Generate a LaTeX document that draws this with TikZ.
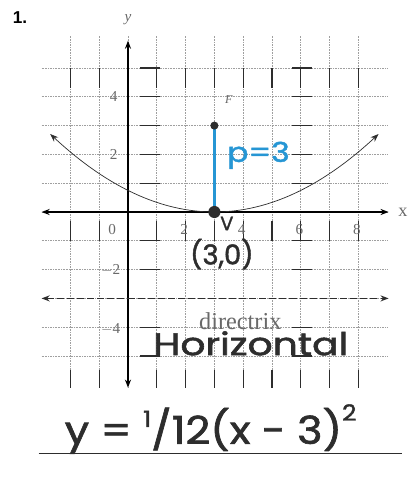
\documentclass[tikz,border=0pt]{standalone}
\usepackage{fontspec}
\setmainfont{Liberation Serif}
\setsansfont{Liberation Sans}
\newfontfamily\handfont[FakeBold=1.6]{Poppins}
\usetikzlibrary{arrows.meta, positioning, calc}
\definecolor{penblue}{RGB}{38,150,212}
\definecolor{ink}{RGB}{45,45,45}
\definecolor{printgray}{RGB}{105,105,105}

\begin{document}
\begin{tikzpicture}[
    x=1cm, y=1cm,
    >=Stealth,
    grid/.style={gray!75, densely dotted, line width=0.6pt},
    bar/.style={ink, line width=1.3pt},
    axis/.style={line width=1.6pt, black, {Stealth[length=8pt]}-{Stealth[length=8pt]}},
    curve/.style={ink, line width=0.7pt, {Stealth[length=8pt]}-{Stealth[length=8pt]}},
    dline/.style={ink, line width=1.6pt, dash pattern=on 7pt off 3pt, {Stealth[length=8pt]}-{Stealth[length=8pt]}},
    tick/.style={font=\fontsize{15}{15}\selectfont, text=printgray, inner sep=1pt},
    hand/.style={font=\handfont\fontsize{30}{30}\selectfont, text=ink, inner sep=0pt},
    dot/.style={circle, fill=ink, inner sep=0pt}
]
\useasboundingbox (-4.444,-9.375) rectangle (9.792,7.361);

% graph paper
\foreach \i in {-2,...,8}
  \draw[grid] (\i,-6.1) -- (\i,6.15);
\foreach \j in {-5,...,5}
  \draw[grid] (-3,\j) -- (9,\j);
\foreach \i in {-2,-1,1,2,3,4,5,6,7,8} {
  \draw[bar] (\i,5) -- (\i,4.3);
  \draw[bar] (\i,-0.3) -- (\i,-1);
  \draw[bar] (\i,-5.5) -- (\i,-6.1);
}
\foreach \j in {-5,-4,-2,-1,1,2,3,4,5} {
  \draw[bar] (0.42,\j) -- (1.1,\j);
  \draw[bar] (5.7,\j) -- (6.4,\j);
}

% axes and directrix
\coordinate (xl) at (-3,0);
\coordinate (xr) at (9.05,0);
\coordinate (yb) at (0,-6.1);
\coordinate (yt) at (0,5.95);
\coordinate (dl) at (-3,-3);
\coordinate (dr) at (9.05,-3);
\draw[axis] (xl) -- (xr);
\draw[axis] (yb) -- (yt);
\draw[dline] (dl) -- (dr);

% parabola
\draw[curve] plot[domain=-2.7:8.7, samples=60] (\x, {(\x-3)^2/12});

% p = 3
\coordinate (vtx) at (3,0);
\coordinate (foc) at (3,3);
\draw[penblue, line width=3pt] (vtx) -- (foc);
\node[dot, minimum size=12pt] (V) at (vtx) {};
\node[dot, minimum size=8pt] (F) at (foc) {};

% printed labels
\node[font=\sffamily\bfseries\fontsize{17}{17}\selectfont] (num) at (-3.75,6.74) {1.};
\node[tick, font=\itshape\fontsize{15}{15}\selectfont] (ylab) at (0,6.68) {y};
\node[tick, font=\fontsize{18}{18}\selectfont] (xlab) at (9.55,0) {x};
\node[tick, font=\itshape\fontsize{12}{12}\selectfont] (flab) at (3.5,3.9) {F};
\node[tick] (t0) at (-0.55,-0.6) {0};
\foreach \k in {2,4,6,8}
  \node[tick] (tx\k) at (\k-0.05,-0.62) {\k};
\node[tick] (ty4) at (-0.5,4) {4};
\node[tick] (ty2) at (-0.5,2) {2};
\node[tick] (tym2) at (-0.6,-2) {$-$2};
\node[tick] (tym4) at (-0.6,-4.05) {$-$4};
\node[tick, font=\fontsize{24}{24}\selectfont] (dirx) at (3.9,-3.8) {directrix};

% handwriting
\node[hand, text=penblue, font=\handfont\fontsize{27}{27}\selectfont, anchor=base west] (plab) at (3.44,1.74) {\scalebox{1.15}[1]{p=3}};
\node[hand, font=\handfont\fontsize{19}{19}\selectfont, anchor=base west] (vlab) at (3.2,-0.63) {V};
\node[hand, font=\handfont\fontsize{27}{27}\selectfont, anchor=base west] (vxy) at (2.15,-1.82) {(3,0)};
\node[hand, font=\handfont\fontsize{31}{31}\selectfont, anchor=base west] (horiz) at (0.87,-4.97) {\scalebox{1.25}[1]{Horizontal}};
\node[hand, font=\handfont\fontsize{38}{38}\selectfont, anchor=base west] (eqn) at (-2.2,-8.05)
  {\scalebox{1.12}[1]{y = \raisebox{0.8ex}{\fontsize{22}{22}\selectfont 1}/12(x - 3)\raisebox{1.1ex}{\fontsize{22}{22}\selectfont 2}}};
\coordinate (ul) at (-3.1,-8.38);
\coordinate (ur) at (9.5,-8.38);
\draw[ink, line width=1.2pt] (ul) -- (ur);

\end{tikzpicture}
\end{document}
